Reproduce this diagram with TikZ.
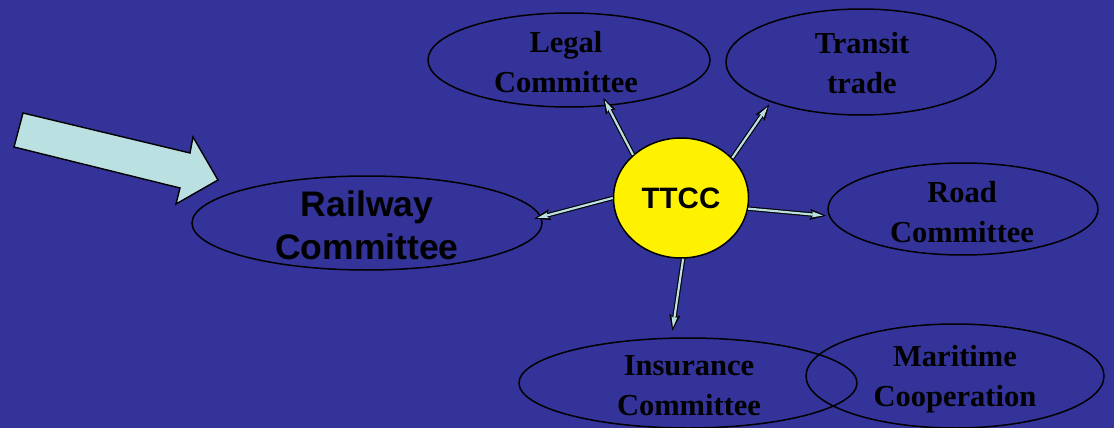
\documentclass[tikz,border=0pt]{standalone}
\usepackage{fontspec}
\setmainfont{Liberation Serif}
\setsansfont{Liberation Sans}
\usetikzlibrary{arrows.meta,shapes.geometric}
\definecolor{slidebg}{RGB}{51,51,153}
\definecolor{paleblue}{RGB}{186,224,226}

\begin{document}
\begin{tikzpicture}[x=1pt,y=-1pt,
  bubble/.style={draw=black,line width=1.5pt,ellipse,inner sep=0pt},
  seriftext/.style={font=\fontsize{30.5}{40}\selectfont\bfseries,align=center},
  connout/.style={draw=black,line width=4.4pt,-{Stealth[length=16pt,width=11pt,inset=3pt,line width=0.5pt]}},
  connin/.style={draw=paleblue,line width=2.2pt,-{Stealth[length=11pt,width=6pt,inset=2pt,line width=0pt]}}]
% Slide background
\fill[slidebg] (0,0) rectangle (1114,428);
\useasboundingbox (0,0) rectangle (1114,428);

% Pointer arrow
\draw[fill=paleblue,line width=1.4pt,line join=miter]
  (23,113) -- (190,153) -- (193,137) -- (218,180) -- (176,204) -- (180,188) -- (14,147) -- cycle;

% Committees
\node[bubble,minimum width=350pt,minimum height=94pt] (railway) at (367,223) {};
\node[font=\fontsize{35.5}{43}\selectfont\sffamily\bfseries,align=center] (railwaytext) at (367,225) {Railway\\Committee};

\node[bubble,minimum width=282pt,minimum height=94pt] (legal) at (569,60) {};
\node[seriftext] (legaltext) at (566,62) {Legal\\Committee};

\node[bubble,minimum width=270pt,minimum height=106pt] (transit) at (861,62) {};
\node[seriftext] (transittext) at (862,63) {Transit\\trade};

\node[bubble,minimum width=270pt,minimum height=92pt] (road) at (963,209) {};
\node[seriftext] (roadtext) at (962,212) {Road\\Committee};

\node[bubble,minimum width=338pt,minimum height=90pt] (insurance) at (688,383) {};
\node[seriftext] (insurancetext) at (689,386) {Insurance\\Committee};

\node[bubble,minimum width=298pt,minimum height=104pt] (maritime) at (955,376) {};
\node[seriftext] (maritimetext) at (955,379) {Maritime\\Cooperation};

% Centre
\node[bubble,fill=yellow,minimum width=135pt,minimum height=120pt,
  font=\fontsize{29.5}{34}\selectfont\sffamily\bfseries] (ttcc) at (681,198) {TTCC};

% Links from TTCC
\foreach \a/\b/\s/\t in {138/legal.-50/-9pt/-6pt, 38/transit.204/3pt/6pt,
    180/railway.2/-7pt/-4pt, -9/road.183/3pt/6pt, -88/insurance.110/7pt/10pt} {
  \draw[connout,shorten >=\s] (ttcc.\a) -- (\b);
  \draw[connin,shorten >=\t] (ttcc.\a) -- (\b);
}
\end{tikzpicture}
\end{document}
